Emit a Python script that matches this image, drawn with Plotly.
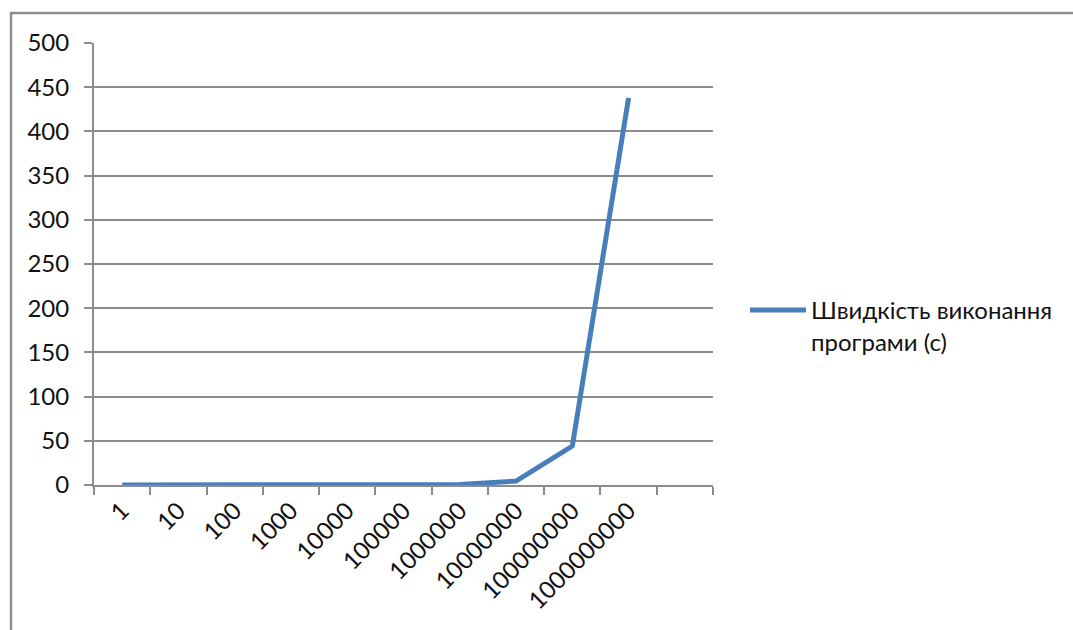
import plotly.graph_objects as go

# Problem size (number of iterations) and measured execution time in seconds
sizes = ["1", "10", "100", "1000", "10000", "100000", "1000000",
         "10000000", "100000000", "1000000000"]
seconds = [0.0, 0.0, 0.0, 0.0, 0.004, 0.04, 0.44, 4.5, 44, 438]
series_name = "Швидкість виконання<br>програми (с)"

# one empty slot after the last size keeps space on the right of the axis
axis_categories = sizes + [" "]

y_ticks = [0, 50, 100, 150, 200, 250, 300, 350, 400, 450, 500]

GRID = "#8c8c8c"
FONT = "Lato, 'Open Sans', sans-serif"
FS = 24

fig = go.Figure()
fig.add_trace(go.Scatter(
    x=sizes, y=seconds, mode="lines", name=series_name,
    line=dict(color="#4a7ebb", width=5),
))

W, H = 1073, 630
L, R, T, B = 94, 360, 43, 145
pw, ph = W - L - R, H - T - B

fig.update_layout(
    width=W, height=H,
    margin=dict(l=L, r=R, t=T, b=B),
    paper_bgcolor="white", plot_bgcolor="white",
    font=dict(family=FONT, size=FS, color="#111111"),
    showlegend=True,
    legend=dict(
        x=(745 - L) / pw, xanchor="left",
        y=(485 - 326) / ph, yanchor="middle",
        valign="top", itemwidth=56,
        font=dict(family=FONT, size=FS, color="#111111"),
        bgcolor="rgba(0,0,0,0)",
    ),
    xaxis=dict(
        type="category", categoryorder="array", categoryarray=axis_categories,
        range=[-0.5, len(axis_categories) - 0.5],
        tickson="boundaries", ticks="outside", ticklen=8, tickwidth=2,
        tickcolor=GRID, tickangle=-45,
        showline=True, linecolor=GRID, linewidth=2,
        showgrid=False, zeroline=False, fixedrange=True,
        tickfont=dict(family=FONT, size=FS, color="#111111"),
    ),
    yaxis=dict(
        range=[0, 500], tickvals=y_ticks,
        ticks="outside", ticklen=8, tickwidth=2, tickcolor=GRID,
        ticklabelstandoff=10,
        showline=True, linecolor=GRID, linewidth=2,
        showgrid=True, gridcolor=GRID, gridwidth=2,
        zeroline=False, fixedrange=True,
        tickfont=dict(family=FONT, size=FS, color="#111111"),
    ),
)

# chart frame, running off the right and bottom edges of the page
fig.add_shape(
    type="rect", xref="paper", yref="paper",
    x0=(11 - L) / pw, x1=(W + 20 - L) / pw,
    y0=(485 - (H + 20)) / ph, y1=(485 - 13) / ph,
    line=dict(color="#8e8e8e", width=2.5), fillcolor="rgba(0,0,0,0)",
    layer="below",
)

fig.write_html("out.html")
